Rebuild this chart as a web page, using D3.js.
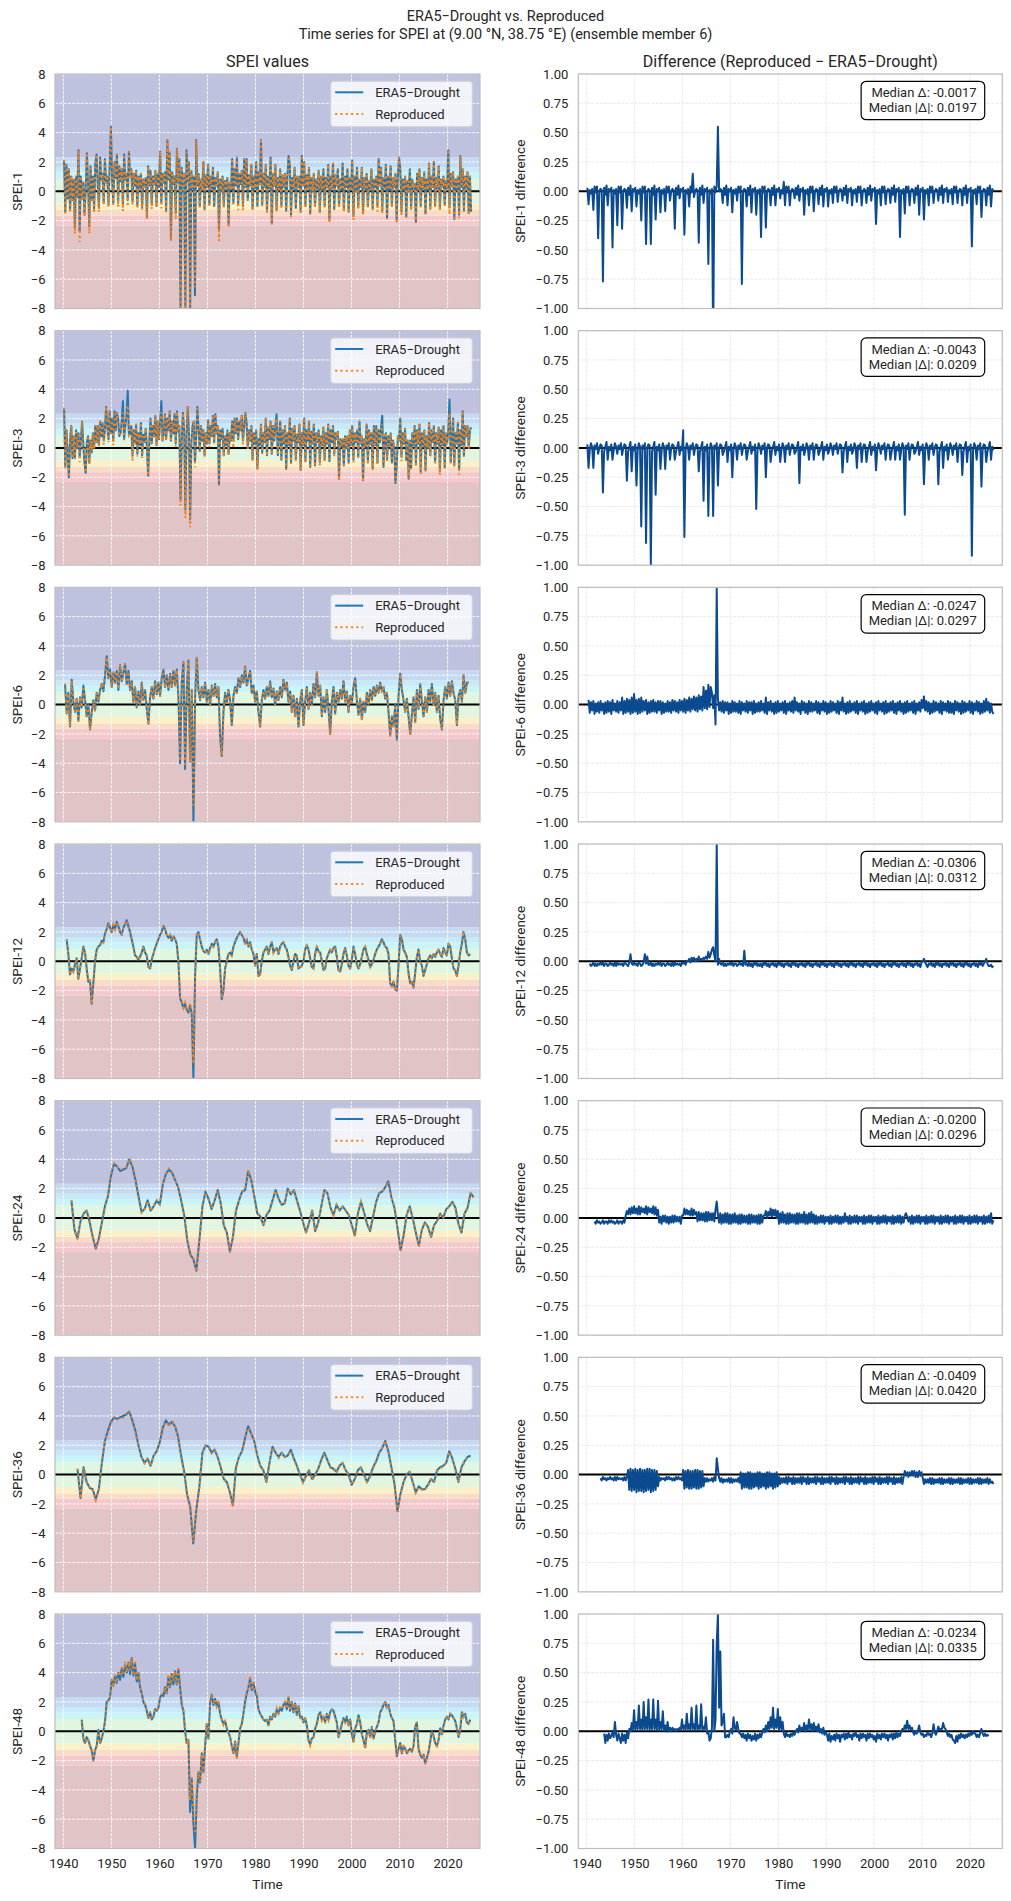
<!DOCTYPE html>
<html><head><meta charset="utf-8">
<script src="https://cdn.jsdelivr.net/npm/d3@7"></script>
<style>
body{margin:0;background:#fff;}
svg text{font-family:Roboto,"Open Sans",sans-serif;fill:#262626;}
</style></head><body>
<svg id="chart" width="1011" height="1901"></svg>
<script>
// ---------------- DATA ----------------
const scaleNames = ["SPEI-1","SPEI-3","SPEI-6","SPEI-12","SPEI-24","SPEI-36","SPEI-48"];
const medianDelta = ["-0.0017","-0.0043","-0.0247","-0.0306","-0.0200","-0.0409","-0.0234"];
const medianAbsDelta = ["0.0197","0.0209","0.0297","0.0312","0.0296","0.0420","0.0335"];
const xTicks = [1940,1950,1960,1970,1980,1990,2000,2010,2020];
const leftTicks = [-8,-6,-4,-2,0,2,4,6,8];
const rightTicks = [-1,-0.75,-0.5,-0.25,0,0.25,0.5,0.75,1];
const bandEdges = [-8,-2.33,-1.65,-1.28,-0.84,0.84,1.28,1.65,2.33,8];
const bandColors = ["#e1c4c6","#f3c9cc","#f9dcc8","#fbf0c8","#e0f6e1","#caf5f8","#c7e9f8","#c5d9f1","#bfc2de"];

// series time grids (decimal years)
const era5Start = [1940.15,1940.15,1940.35,1940.69,1941.68,1942.94,1943.82];
const era5Step  = [0.25,0.25,0.3472,0.3472,0.6345,0.6345,0.3472];
const diffStart = [1940.15,1940.15,1940.4,1940.65,1941.65,1942.9,1943.65];
const diffStep = 0.25;

// ERA5-Drought values
const era5_1 = [
2.1,-1.4,1.8,-0.5, 1.5,-1.3,1.0,-0.6, 0.8,-2.5,1.0,-0.4, 2.8,-2.7,1.0,-0.5, 0.6,-1.6,0.2,2.6,
0.5,-2.4,1.7,-0.6, 1.0,-1.2,1.8,2.5, 0.5,-1.1,2.3,0.8, 1.2,-0.8,2.2,0.6, 1.0,-0.9,1.8,4.4,
0.8,-0.8,2.0,0.9, 2.5,-0.8,1.7,0.7, 1.5,-0.9,2.5,0.8, 1.2,-0.6,2.7,1.0, 1.5,-0.7,1.2,0.4,
1.4,-1.0,1.0,0.2, 1.2,-1.1,0.8,0.3, 0.9,-1.8,1.7,0.4, 1.4,-0.9,1.0,0.5, 1.4,-1.0,1.2,0.3,
2.7,-0.8,1.2,0.6, 1.3,-1.3,3.5,0.8, 2.6,-3.3,1.3,0.5, 1.0,-1.5,2.9,0.6, 2.2,-8.0,1.6,0.3,
1.2,-8.0,2.8,0.7, 2.0,-8.0,1.4,0.2, 1.0,-7.1,3.5,0.4, 1.2,-1.0,0.8,0.1, 2.0,-1.2,1.1,0.3,
1.8,-0.9,1.0,0.2, 1.6,-1.0,0.9,0.4, 1.3,-2.6,0.8,0.0, 1.0,-1.0,0.7,0.2, 0.9,-2.3,0.6,0.1,
2.2,-0.8,1.5,0.4, 2.3,-0.9,1.2,0.5, 1.4,-1.0,2.2,0.3, 2.2,-0.6,1.1,0.4, 1.8,-1.2,1.0,0.2,
2.0,-1.0,1.3,0.5, 3.5,-0.9,1.2,0.3, 1.8,-1.4,1.0,0.2, 2.3,-2.2,1.2,0.4, 1.8,-1.3,0.9,0.1,
1.5,-1.0,1.1,0.3, 1.2,-1.3,1.0,2.4, 1.8,-1.6,0.9,0.2, 1.6,-1.1,1.0,0.3, 1.0,-1.4,2.4,0.4,
2.0,-1.0,1.1,0.2, 1.6,-1.5,0.9,0.0, 1.2,-1.0,0.8,0.2, 1.4,-1.4,1.0,0.1, 1.5,-1.0,0.9,0.3,
1.8,-2.0,1.0,0.2, 1.9,-1.2,1.1,0.4, 1.5,-1.0,0.8,0.1, 1.9,-1.3,1.0,0.3, 1.5,-1.4,0.9,0.2,
2.1,-1.7,1.0,0.0, 1.6,-1.1,0.8,0.3, 1.6,-1.5,0.9,0.1, 1.2,-1.0,0.7,0.2, 1.5,-1.2,0.8,0.3,
1.0,-1.0,2.2,0.4, 1.6,-1.3,0.9,0.2, 1.8,-1.8,1.0,0.1, 1.7,-1.0,0.9,0.3, 1.2,-2.0,1.0,2.3,
1.5,-1.4,0.8,0.1, 1.0,-1.7,0.7,0.0, 1.5,-1.2,0.8,0.2, 0.5,-2.1,1.2,0.1, 1.5,-1.0,0.9,0.2,
1.3,-1.5,0.8,0.1, 1.9,-1.2,1.0,0.3, 2.0,-1.0,0.9,0.2, 1.7,-1.2,0.8,0.3, 1.0,-0.9,0.7,0.2,
2.8,-1.1,1.2,0.4, 1.3,-1.9,0.8,0.1, 1.0,-1.6,2.4,0.3, 1.5,-1.3,1.0,0.2, 1.3,-1.5,1.0,-1.4];

const era5_3 = [
2.7,-1.3,1.2,-0.5, -2.0,0.5,1.5,-0.7, 0.8,-0.7,1.2,0.0, 1.0,-0.6,0.5,1.8, 0.3,-1.0,-1.7,0.4,
0.8,-1.0,0.5,-0.3, 1.0,0.0,1.5,0.4, 1.5,0.2,1.8,0.8, 1.7,0.5,1.2,2.8, 1.5,0.6,2.5,1.0,
2.0,0.5,2.5,1.2, 2.4,2.0,0.8,1.0, 1.8,3.2,0.6,1.5, 2.2,3.9,0.9,1.0, 1.5,-0.5,1.2,0.3,
1.6,-0.4,1.0,0.2, 1.7,-0.5,0.9,0.4, 1.3,0.0,-1.9,0.5, 2.0,0.3,1.5,0.8, 2.2,0.2,1.8,0.6,
1.8,3.2,0.5,1.0, 2.3,0.6,2.0,1.2, 2.5,0.5,1.8,1.0, 2.3,0.3,2.5,1.1, 1.5,-3.5,0.5,2.4,
1.2,-4.2,0.8,2.8, 1.0,-4.85,0.4,1.5, 1.8,-1.0,0.8,2.8, 1.3,-0.2,1.5,0.5, 1.2,-0.5,1.0,0.3,
1.9,0.3,1.5,0.8, 2.2,0.4,2.3,1.0, 1.5,-2.5,1.2,0.6, 1.3,-0.5,0.8,0.2, 1.2,-0.4,1.0,0.5,
1.8,0.5,2.0,1.0, 2.0,0.6,1.8,1.2, 2.2,0.5,1.5,2.4, 1.7,0.0,1.2,0.5, 1.5,-0.8,1.0,0.3,
1.2,-1.4,0.6,0.2, 1.6,-0.3,1.0,0.4, 2.0,-0.5,1.4,0.6, 1.8,-0.4,1.5,0.5, 1.5,2.3,-0.5,0.8,
1.8,-0.8,1.2,0.3, 1.5,-1.4,1.0,0.2, 2.0,-1.0,1.3,0.5, 1.5,-0.8,0.9,0.4, 1.6,-1.5,1.0,0.2,
2.0,-0.9,1.2,0.5, 1.8,-1.3,1.1,0.3, 1.6,-1.2,1.0,0.4, 1.2,-1.0,0.8,0.2, 1.4,-0.8,1.0,0.3,
1.6,-0.9,1.2,0.4, 1.5,-0.4,1.0,0.6, 1.1,-2.1,0.6,0.1, 0.6,-1.2,0.8,0.0, 0.8,-1.0,1.2,0.2,
1.5,-0.8,1.0,0.4, 1.2,-0.6,1.8,0.3, 0.8,-2.2,0.6,0.1, 1.6,-1.0,1.2,0.3, 1.0,-1.4,1.5,0.2,
1.5,-1.0,1.2,0.4, 1.4,2.2,-1.3,0.6, 1.0,-0.8,0.8,0.2, 1.0,-1.0,0.5,0.0, -2.4,-1.2,0.8,0.5,
2.0,-0.6,1.0,0.3, 1.3,-0.8,0.5,-2.1, 0.5,-1.4,1.0,0.2, 1.5,-1.0,1.2,0.3, 1.6,-1.6,1.0,0.1,
1.2,-1.5,0.8,0.0, 1.7,-0.5,1.2,0.4, 1.5,-1.0,1.0,0.3, 1.4,-1.6,1.2,0.2, 1.5,-1.3,1.0,0.3,
1.2,3.3,-1.0,0.6, 2.0,-1.2,1.0,0.3, 1.7,-1.5,1.2,0.2, 2.5,-0.5,1.5,0.8, 1.5,0.0,1.2,1.4];

const era5_6 = [
1.4,-0.6,0.8,-1.5,1.7,0.2,-0.5,0.4,-1.1,0.5,-0.2,1.3,0.3,-0.8,0.0,-1.7,-0.5,0.3,-0.4,0.8,
0.2,1.0,1.4,0.9,2.0,3.3,1.8,2.4,1.2,2.2,1.5,2.3,1.0,2.7,1.6,2.2,2.75,1.4,2.3,1.0,
1.6,0.2,1.2,-0.2,0.9,0.0,1.5,0.3,1.0,-0.3,-1.3,0.5,1.2,0.4,1.6,0.7,1.5,0.6,1.8,2.4,
1.2,2.0,1.0,2.1,1.2,2.3,1.3,2.4,0.5,-4.0,1.5,2.9,-4.4,1.0,3.0,-3.9,1.0,-8.0,0.5,3.2,
1.0,0.3,1.2,0.5,1.5,0.2,1.0,0.0,1.3,0.6,1.4,0.5,1.2,-2.2,-3.5,-0.5,0.8,0.1,1.0,0.3,
-1.4,0.6,1.2,0.8,1.8,1.2,2.0,1.5,2.6,1.3,1.8,2.3,0.8,1.3,0.2,0.9,-0.5,-1.5,0.3,1.0,
0.4,1.2,0.6,1.6,0.5,1.1,0.0,0.9,0.3,1.2,0.5,1.7,1.0,1.5,0.2,0.9,-0.5,0.6,-0.8,0.4,
-1.5,0.3,1.0,-1.4,0.2,1.2,-0.3,0.8,0.0,1.4,0.5,2.2,0.6,1.3,-0.8,0.5,-0.5,1.0,-0.3,-2.0,
0.2,1.2,-0.6,0.8,0.2,1.0,0.4,1.6,0.2,0.9,-0.5,0.6,0.1,1.2,1.8,0.3,-0.7,0.4,-1.0,0.2,
-0.5,0.8,0.0,1.0,0.3,1.2,0.6,1.3,0.8,1.5,0.9,1.2,0.4,0.8,-0.5,-2.1,-0.8,-1.5,0.0,-2.4,
0.6,2.1,1.0,0.3,-0.5,0.4,-0.8,-2.0,-0.7,0.5,-1.2,1.0,-0.3,1.4,0.2,-0.8,0.5,-0.5,1.0,0.2,
1.4,0.0,0.8,-0.5,0.6,-1.0,-1.7,0.3,1.2,0.4,1.5,0.6,1.6,0.8,0.3,-1.4,0.6,1.0,0.2,2.0,
0.8,1.5,1.5];

const era5_12 = [
1.5,0.5,-0.9,-0.5,-0.7,-0.2,0.2,-1.2,-0.5,0.2,1.0,0.6,-0.5,-1.4,-1.3,-2.9,-1.5,0.0,0.8,1.0,
1.1,1.4,1.3,1.9,2.2,2.6,2.3,2.0,2.5,2.2,2.7,2.4,2.0,1.8,2.3,2.5,2.8,2.4,2.0,1.5,
1.0,0.4,0.3,0.1,0.3,0.6,1.0,0.6,0.4,-0.4,-0.5,0.1,0.5,0.9,1.2,1.5,1.8,2.0,2.4,2.2,
1.8,1.6,1.8,1.4,1.7,1.5,1.2,0.0,-2.5,-2.8,-3.2,-2.9,-3.3,-3.5,-3.0,-3.6,-8.0,-1.0,1.8,2.0,
1.5,1.0,0.7,0.6,0.8,0.5,0.9,1.2,1.0,1.3,1.5,1.0,-0.5,-2.6,-2.0,-0.5,0.0,0.5,0.6,0.4,
1.0,1.3,1.6,1.8,2.0,1.8,1.6,1.2,1.5,1.0,1.3,0.8,0.5,-0.3,0.5,-1.0,-0.9,0.0,0.6,0.8,
1.0,0.5,1.0,1.3,0.6,0.8,0.9,0.5,1.0,1.2,1.3,1.0,0.8,0.3,-0.3,-0.6,0.0,0.5,0.4,-0.5,
-0.4,-0.3,0.0,0.8,1.1,0.8,0.2,-0.4,-0.5,0.5,1.0,0.7,0.6,0.0,-0.6,-0.5,0.2,0.5,0.8,0.6,
0.9,1.0,0.3,-0.6,-0.7,-0.2,0.5,0.9,0.4,-0.3,-0.5,0.1,1.0,0.5,-0.2,-0.5,-0.2,0.3,0.8,1.0,
0.5,0.1,-0.4,-0.2,0.1,0.5,0.8,1.0,1.2,1.5,1.3,1.0,0.9,0.5,-1.5,-1.7,-1.4,-1.9,-2.0,-0.3,
1.8,1.5,0.8,0.6,0.3,-0.8,-1.5,-1.4,-1.8,-0.8,0.3,0.8,0.0,-0.3,-1.0,-0.6,-0.2,0.2,0.4,0.2,
0.5,0.3,0.6,0.8,0.5,0.3,0.9,0.6,0.4,1.2,1.0,0.2,-0.5,-0.6,-1.0,-0.3,0.6,1.2,2.0,1.5,
0.6,0.4,0.5];

const era5_24 = [
1.2,-0.8,-1.4,-0.2,0.3,0.5,-0.3,-1.3,-2.1,-1.4,-0.3,0.8,1.5,2.9,3.7,3.5,3.2,3.3,3.4,4.0,
3.5,2.6,1.5,0.4,0.6,1.2,0.5,0.8,1.2,0.9,2.3,3.0,3.3,3.1,2.6,2.1,1.2,0.2,-1.5,-2.5,
-2.8,-3.6,-1.5,0.8,1.8,1.3,0.6,1.2,1.9,1.0,-0.5,-1.0,-2.3,-1.3,0.5,1.2,1.8,1.9,3.2,2.6,
1.5,0.3,0.1,-0.5,0.2,0.5,1.2,1.9,1.3,0.9,1.0,2.0,1.6,1.9,1.2,0.5,-0.3,-1.0,-0.3,0.5,
-0.9,-0.3,0.8,1.9,1.7,0.7,0.2,0.9,0.5,0.8,0.5,0.2,-0.5,-1.2,0.3,1.1,0.4,-0.4,-0.9,0.1,
1.1,1.7,1.8,2.1,2.5,1.4,0.7,-0.7,-2.2,-1.2,0.2,0.8,0.0,-1.0,-1.9,-0.8,-0.3,-0.6,-1.3,-0.5,
-0.2,0.3,0.0,0.6,0.8,1.1,0.7,-0.4,-1.0,0.3,0.7,1.7,1.4];

const era5_36 = [
0.4,-1.6,0.5,-0.5,-0.9,-1.0,-1.7,-1.0,0.8,2.3,3.0,3.6,3.9,3.8,3.9,4.0,4.1,4.3,3.7,3.0,
2.0,1.2,0.8,1.1,0.6,1.3,1.6,2.2,3.2,3.7,3.4,3.6,3.3,2.6,1.3,0.2,-1.4,-2.2,-4.7,-2.4,
-0.8,1.5,2.0,1.9,1.5,1.7,1.2,0.5,-0.3,-0.5,-1.2,-2.1,0.5,1.2,1.6,2.5,3.3,2.8,2.3,1.3,
0.6,0.3,-0.5,0.8,1.9,1.5,1.2,1.5,1.2,1.3,1.7,1.1,0.6,0.0,-0.5,-0.1,0.3,-0.3,0.0,0.4,
1.0,1.5,1.0,0.5,0.4,0.2,0.6,0.8,0.3,0.0,-0.7,-0.3,0.3,0.5,0.0,-0.5,-0.1,0.5,0.9,1.5,
1.8,2.3,1.6,0.5,-0.6,-2.5,-1.3,-0.5,0.0,0.2,-0.5,-1.2,-0.8,-1.0,-1.0,-0.7,-0.3,-0.5,0.3,0.5,
0.6,0.8,1.6,1.1,0.4,-0.5,0.5,0.9,1.2,1.3];

const era5_48 = [
0.8,-0.5,-0.8,-0.4,-0.6,-1.0,-1.3,-2.0,-1.3,-1.0,0.1,-0.8,-0.5,0.0,0.7,2.0,2.1,2.3,3.5,3.1,
3.8,3.3,4.0,3.5,4.3,3.7,4.5,4.0,4.7,3.9,5.0,3.8,4.6,3.4,4.0,3.0,2.6,2.0,1.8,1.4,
0.9,1.3,0.8,1.0,1.5,1.4,1.6,2.3,2.5,2.4,3.0,2.6,3.7,3.0,3.9,3.2,4.1,3.2,4.2,3.0,
1.8,1.4,0.0,-0.8,-0.6,-5.5,-3.2,-6.3,-8.0,-4.5,-2.8,-3.5,-1.5,-2.8,-1.0,0.5,-0.5,1.9,2.5,1.8,
2.2,1.7,2.0,1.2,0.8,0.5,0.7,0.2,-0.1,-0.4,-1.0,-1.5,-0.7,-1.8,-0.8,0.2,0.5,1.2,2.0,2.6,
3.0,3.6,2.8,3.3,2.7,2.4,1.5,1.2,1.0,0.8,0.7,0.8,0.4,1.0,0.8,1.2,1.0,1.5,1.2,1.6,
1.4,1.8,2.0,1.5,2.3,1.4,2.0,1.3,1.9,1.1,1.7,0.9,1.0,0.6,0.9,0.4,-0.6,-0.9,-0.5,-0.4,
0.2,0.5,1.1,1.3,0.8,1.0,0.6,1.2,0.8,1.3,1.5,1.4,1.0,0.6,-0.4,0.0,0.5,0.9,0.6,1.0,
0.4,0.8,-0.2,-0.7,0.2,0.5,1.1,0.6,-0.2,-0.6,-1.1,-0.1,0.1,-0.4,0.3,-0.5,0.0,0.3,0.6,1.3,
1.5,1.8,2.0,1.6,1.8,1.2,0.9,0.7,-0.6,-1.7,-1.2,-0.8,-1.5,-1.0,-1.2,-1.5,-1.3,-1.2,-1.4,-1.0,
0.3,0.6,-1.2,-1.6,-1.8,-1.6,-2.2,-1.8,-1.4,-0.7,0.0,-0.3,-0.8,-1.0,-0.6,0.2,-0.2,0.4,0.8,1.0,
0.8,1.2,1.1,0.9,0.7,0.2,-0.4,0.1,1.3,1.0,1.2,0.6,0.5,0.8];

// Differences (Reproduced − ERA5-Drought), in hundredths, quarterly
const diff_1 = [
3,-11,1,-2, 2,-16,4,-1, 4,-40,0,2, 1,-77,3,-3, 5,-12,2,0, 3,-48,1,-2, 2,-29,4,-1, 4,-32,0,2, 1,-14,3,-3, 5,-17,2,0,
3,-13,1,-2, 2,-25,4,-1, 4,-45,0,2, 1,-45,3,-3, 5,-24,2,0, 3,-18,1,-2, 2,-17,4,-1, 4,-8,0,2, 1,-32,3,-3, 5,-6,2,0,
3,-37,1,-2, 2,-13,4,-1, 15,-5,0,2, 1,-44,3,-3, 5,-10,2,0, 3,-62,1,-2, 2,-130,4,-1, 4,55,0,2, 1,-10,3,-3, 5,-12,2,0,
3,-18,1,-2, 2,-8,4,-1, 4,-79,0,2, 1,-13,3,-3, 5,-18,2,0, 3,-20,1,-2, 2,-39,4,-1, 4,-31,0,2, 1,-12,3,-3, 5,-12,2,0,
3,-6,1,-2, 8,-12,4,-1, 4,-12,0,2, 1,-6,3,-3, 5,-8,2,0, 3,-20,1,-2, 2,-12,4,-1, 4,-17,0,2, 1,-11,3,-3, 5,-13,2,0,
3,-13,1,-2, 2,-10,4,-1, 4,-9,0,2, 1,-8,3,-3, 5,-10,2,0, 3,-12,1,-2, 2,-9,4,-1, 4,-12,0,2, 1,-10,3,-3, 5,-8,2,0,
3,-28,1,-2, 2,-12,4,-1, 4,-11,0,2, 1,-10,3,-3, 5,-9,2,0, 3,-39,1,-2, 2,-19,4,-1, 4,-12,0,2, 1,-10,3,-3, 5,-20,2,0,
3,-24,1,-2, 2,-12,4,-1, 4,-10,0,2, 1,-8,3,-3, 5,-10,2,0, 3,-9,1,-2, 2,-11,4,-1, 4,-10,0,2, 1,-12,3,-3, 5,-10,2,0,
3,-47,1,-2, 2,-11,4,-1, 4,-22,0,2, 1,-12,3,-3, 5,-13,2,0];

const diff_3 = [
3,-17,-2,4, 1,-17,2,-1, 4,-5,0,3, 2,-38,-3,1, 5,-10,1,-2, 3,-10,-2,4, 1,-5,2,-1, 4,-6,0,3, 2,-28,-3,1, 5,-20,1,-2,
3,-32,-2,4, 1,-67,2,-1, 4,-81,0,3, 2,-100,-3,1, 5,-40,1,-2, 3,-18,-2,4, 1,-18,2,-1, 4,-10,0,3, 2,-10,-3,1, 5,-6,1,-2,
15,-76,-2,4, 1,-10,2,-1, 4,-6,0,3, 2,-20,-3,1, 5,-45,1,-2, 3,-58,-2,4, 1,-58,2,-1, 4,-32,0,3, 2,-6,-3,1, 5,-12,1,-2,
3,-25,-2,4, 1,-10,2,-1, 4,-6,0,3, 2,-10,-3,1, 5,-5,1,-2, 3,-52,-2,4, 1,-5,2,-1, 4,-25,0,3, 2,-12,-3,1, 5,-6,1,-2,
3,-12,-2,4, 1,-12,2,-1, 4,-6,0,3, 2,-5,-3,1, 5,-30,1,-2, 3,-6,-2,4, 1,-10,2,-1, 4,-10,0,3, 2,-6,-3,1, 5,-10,1,-2,
3,-5,-2,4, 1,-6,2,-1, 4,-5,0,3, 2,-21,-3,1, 5,-12,1,-2, 3,-5,-2,4, 1,-17,2,-1, 4,-12,0,3, 2,-12,-3,1, 5,-6,1,-2,
3,-19,-2,4, 1,-5,2,-1, 4,-10,0,3, 2,-10,-3,1, 5,-10,1,-2, 3,-10,-2,4, 1,-57,2,-1, 4,-10,0,3, 2,-5,-3,1, 5,-6,1,-2,
3,-31,-2,4, 1,-10,2,-1, 4,-6,0,3, 2,-31,-3,1, 5,-17,1,-2, 3,-10,-2,4, 1,-6,2,-1, 4,-12,0,3, 2,-23,-3,1, 5,-12,1,-2,
3,-92,-2,4, 1,-10,2,-1, 4,-33,0,3, 2,-12,-3,1, 5,-10,1,-2];

const diff_6 = [
4,-7,2, -5,3,-8,1, -6,2,-7,3, -5,1,-8,2, -7,3,-6,2, -8,4,-5,1, -6,3,-7,2, -5,6,-8,3, -7,5,-6,4, -8,6,-7,9,
-6,4,-8,5, -7,6,-6,3, -5,4,-8,2, -7,3,-6,4, -6,2,-7,3, -5,3,-8,2, -7,1,-6,3, -6,2,-7,4, -5,3,-6,2, -7,4,-5,3,
-6,5,-7,4, -5,6,-6,5, -4,7,-5,6, -6,8,-4,7, -5,15,-3,12, -4,17,-2,15, 10,-3,8,-17, 99,5,-5,2, -6,3,-7,2, -5,2,-8,1,
-7,3,-6,2, -6,1,-7,3, -8,2,-5,1, -6,3,-7,2, -5,2,-8,3, -7,1,-6,2, -6,3,-5,1, -7,6,-8,2, -5,3,-6,1, -8,2,-7,3,
-6,1,-5,2, -7,3,-8,1, -5,2,-6,3, -7,6,-5,2, -6,1,-8,3, -5,2,-7,1, -8,3,-6,2, -6,1,-5,3, -7,2,-8,1, -5,3,-6,2,
-8,1,-7,3, -6,2,-5,1, -7,3,-8,2, -5,6,-6,1, -8,2,-7,3, -6,1,-5,2, -7,3,-8,1, -5,2,-6,3, -8,1,-7,2, -6,3,-5,1,
-7,2,-8,3, -5,1,-6,2, -8,3,-7,1, -6,2,-5,3, -7,1,-8,2, -5,3,-6,1, -8,2,-7,3, -6,1,-5,2, -7,3,-8,1, -5,2,-6,4,
-3,7,-5,3, -6,2,-8,1, -7,3,-6,2, -5,1,-7,3, -8,2,-5,1, -6,3,-7,2, -7,1,-8,3, -5,2,-6,1, -8,3,-7,2, -6,1,-5,3,
-7,2,-8,1, -5,3,-6,2, -8,1,-7,3, -6,5,-5,2, -7,1,-6,-8];

const diff_12 = [
-2,-4, -3,-1,-4,-2, -4,-2,-3,-1, -3,-1,-4,-2, -2,-4,-3,-1, -3,-2,-4,-1, -4,-1,-3,-2, -3,-2,-4,-1, -2,-3,-4,-1,
6,-2,-3,-1, -3,-2,-4,-1, -2,-4,-3,-1, 6,-2,4,-3, -3,-1,-4,-2, -4,-2,-3,-1, -3,-1,-4,-2, -2,-4,-3,-1, -3,-2,-4,-1,
-4,-1,-3,-2, -3,-2,-4,-1, -2,-1,-3,0, 0,2,-1,3, 1,3,0,2, 0,4,1,2, 1,3,2,4, 2,8,3,6, 10,12,5,0, 100,-3,2,-2,
-3,-1,-4,-2, -4,-2,-3,-1, -3,-1,-4,-2, -2,-4,-3,-1, -3,-2,-4,9, -3,-2,-4,-1, -4,-2,-5,-1, -3,-1,-4,-2,
-4,-2,-5,-1, -3,-1,-4,-2, -5,-2,-3,-1, -4,-2,-5,-1, -3,-1,-4,-2, -5,-2,-3,-1, -4,-2,-5,-1, -3,-1,-4,-2,
-5,-2,-3,-1, -4,-2,-5,-1, -3,-1,-4,-2, -5,-2,-3,-1, -4,-2,-5,-1, -3,-1,-4,-2, -5,-2,-3,-1, -4,-2,-5,-1,
-3,-1,-4,-2, -5,-2,-3,-1, -4,-2,-5,-1, -3,-1,-4,-2, -5,-2,-3,-1, -4,-2,-5,-1, -3,-1,-4,-2, -5,-2,-3,-1,
-4,-2,-5,-1, -3,-1,-4,-2, -5,-2,-3,-1, -4,-2,-5,-1, -3,-1,-4,-2, -5,-2,-3,-1, -4,-2,-5,-1, -3,-1,-4,-2,
-5,-2,-3,-1, -4,-2,-5,-1, 0,2,-1,-3,
-5,-2,-3,-1, -4,-2,-5,-1, -3,-1,-4,-2, -5,-2,-3,-1, -4,-2,-5,-1, -3,-1,-4,-2,
-5,-2,-3,-1, -4,-2,-5,-1, -3,-1,-4,-2, -5,-2,-3,-1, -4,-2,-5,-1, -3,-1,-4,-2,
0,2,-2,-4, -4,-3,-5,-4];

const diff_24 = [
-3,-5, -2,-4,-3,-5, -4,-2,-5,-3, -3,-5,-2,-4, -2,-4,-3,-5, -4,-2,-5,-3, -3,-5,-2,-4, 2,6,3,8,
3,9,4,10, 4,8,3,10, 3,9,5,8, 4,10,3,9, 5,8,4,10, 3,9,2,7, -4,1,-5,2, -3,2,-4,1, -5,1,-4,2, -4,2,-3,1, -3,1,-5,2,
2,8,3,7, 3,6,2,8, 2,7,3,5, -3,5,-2,4, -2,4,-3,5, -3,5,-2,4, -2,4,-3,7, 14,3,-4,4, -5,3,-4,4, -4,4,-5,3,
-5,3,-4,4, -4,2,-5,3, -5,3,-4,2, -4,2,-5,3, -5,3,-4,2, -4,2,-5,3, -5,3,-4,2, 2,6,0,5, 2,8,1,7, 2,7,0,6,
-5,4,-4,5, -4,3,-5,4, -5,4,-4,3, -4,3,-5,4, -5,4,-4,3, -4,5,-5,3, -5,4,-4,5, -4,3,-5,2,
-5,1,-4,2, -4,2,-5,1, -3,1,-5,2, -5,1,-4,2, -4,2,-5,1, -5,1,-4,4, -3,1,-5,2, -5,1,-4,2, -4,2,-5,1, -3,1,-5,2,
-5,1,-4,2, -4,2,-5,1, -3,1,-5,2, -5,1,-4,2, -4,2,-5,1, -3,1,-5,2, -5,1,-4,2, -4,2,-5,1, -4,2,4,1, -3,1,-5,2,
-5,1,-4,2, -4,2,-5,1, -3,1,-5,2, -5,1,-4,2, -4,2,-5,1, -3,1,-5,2, -5,1,-4,2, -4,2,-5,1, -3,1,-5,2, -5,1,-4,2,
-4,2,-5,1, -3,1,-5,2, -5,1,-4,2, -4,2,-5,1, -3,1,-5,2, -5,1,-4,2, -4,4,-5,-2];

const diff_36 = [
-3, -5,-2,-4,-3, -5,-3,-4,-2, -4,-3,-5,-2, -5,-2,-4,-3, -4,-3,-5,-2, -5,-2,4,-13,
5,-14,4,-13, 5,-15,4,-14, 5,-14,4,-15, 4,-14,5,-13, 5,-15,4,-14, 4,-13,3,-10, -2,-5,-3,-4, -3,-5,-2,-4, -2,-4,-3,-5, -3,-5,-2,-4, -2,-4,-3,-5,
4,-12,3,-11, 4,-12,3,-12, 3,-11,4,-12, 4,-12,3,-11, 3,-10,-3,-6, -3,-6,-4,-5, -3,-6,-2,-5, 14,5,-3,-6, -3,-7,-4,-6, -4,-6,-3,-7,
-3,-7,-4,-6, -4,-6,-3,-7, 2,-12,1,-11, 1,-11,2,-12, 2,-12,1,-11, 1,-10,2,-12, 2,-11,1,-10, 1,-12,2,-11, 2,-10,1,-12, 1,-11,2,-10,
-2,-8,-3,-7, -3,-7,-2,-8, -2,-6,-3,-8, -2,-8,-3,-7, -3,-7,-2,-8, -2,-6,-3,-8, -2,-8,-3,-7, -3,-7,-2,-8, -2,-6,-3,-8, -2,-8,-3,-7,
-3,-7,-2,-8, -2,-6,-3,-8, -2,-8,-3,-7, -3,-7,-2,-8, -2,-6,-3,-8, -2,-8,-3,-7, -3,-7,-2,-8, -2,-6,-3,-8, -2,-8,-3,-7, -3,-7,-2,-8,
-2,-6,-3,-8, -2,-8,-3,-7, -3,-7,-2,-8, -2,-6,-3,-8, -2,-8,-3,-7, -3,-7,-2,-8,
-2,3,-1,2, -2,2,-1,3, -1,3,-2,2, -2,3,-1,2,
-3,-8,-4,-7, -4,-7,-3,-8, -3,-8,-4,-7, -4,-7,-3,-8, -3,-8,-4,-7, -4,-7,-3,-8, -3,-8,-4,-7, -4,-7,-3,-8, -3,-8,-4,-7, -4,-7,-3,-8,
-3,-8,-4,-7, -4,-7,-3,-8, -3,-8,-4,-7, -4,-7,-3,-8, -4,-7,-6,-8];

const diff_48 = [
-2,-10, -3,-8,-2,-6, -4,-1,-5,8, -3,-8,-2,-6, -10,-2,-8,-3, -10,-1,-6,2, 0,7,1,18,
1,8,2,22, 2,10,1,25, 2,12,2,27, 1,10,2,27, 2,10,1,26, 1,8,2,17, 0,5,1,8, 0,3,0,3, 1,2,0,2, 1,3,1,10,
2,5,1,15, 2,6,1,20, 2,6,1,22, 1,5,2,23, 1,4,2,12, -2,0,-8,-6, 3,78,0,10, 75,100,20,68, 5,8,15,-5, -5,-3,-5,0,
2,-2,12,3, 1,8,2,-2, -2,-5,-2,-6, -3,-8,-2,-6, -3,-8,-4,-7, -2,-8,-3,-6, -2,-5,-1,2, -1,5,0,8, 2,12,3,20, 2,10,3,19,
1,12,2,8, -2,-5,-1,-4, -3,-5,-2,-4, -1,-3,0,2, -1,5,0,3, 1,7,0,5, 1,10,2,6, 0,7,1,4, 0,6,-1,2, -2,3,-3,-1,
-3,-8,-2,-9, -4,-7,-3,-8, -2,-6,-3,-9, -3,-5,-2,-7, -2,-6,-1,-5, -3,-7,-2,-4, -1,-5,-3,-8, -2,-6,-2,-5, -3,-8,-2,-6, -2,-5,-3,-7,
-4,-9,-2,-6, -3,-7,-2,-5, -2,-6,-3,-8, -3,-5,-2,-7, -2,-6,-1,-5, -2,-4,0,2, 1,5,2,9, 2,5,1,3, -1,-3,0,-2, 1,5,-1,-3,
-2,-5,-3,-4, -1,-3,-2,-5, -2,6,-1,-3, 0,4,1,2, 2,7,3,2, -1,-4,-2,-5, -3,-7,-8,-10, -4,-9,-3,-6, -2,-5,-3,-6, -3,-5,-2,-4,
-1,-3,0,-2, -2,-5,-3,-5, -1,2,-2,-4, -2,-4,-3,-4];

const era5Values = [era5_1, era5_3, era5_6, era5_12, era5_24, era5_36, era5_48];
const diffValues = [diff_1, diff_3, diff_6, diff_12, diff_24, diff_36, diff_48];

// ---------------- DRAWING ----------------
const svg = d3.select("#chart");
const leftX0 = 55, leftW = 425, rightX0 = 578.3, rightW = 424;
const rowTop0 = 74, rowStep = 256.67, rowH = 234.5;
const xDomain = [1938.26, 2026.75];
const minus = s => String(s).replace(/-/g, "\u2212");

svg.append("text").attr("x", 505.5).attr("y", 21).attr("text-anchor", "middle")
  .style("font-size", "14.5px").text("ERA5\u2212Drought vs. Reproduced");
svg.append("text").attr("x", 505.5).attr("y", 38.5).attr("text-anchor", "middle")
  .style("font-size", "14.5px").text("Time series for SPEI at (9.00 \u00B0N, 38.75 \u00B0E) (ensemble member 6)");
svg.append("text").attr("x", leftX0 + leftW / 2).attr("y", 66.5).attr("text-anchor", "middle")
  .style("font-size", "16px").text("SPEI values");
svg.append("text").attr("x", rightX0 + rightW / 2).attr("y", 66.5).attr("text-anchor", "middle")
  .style("font-size", "16px").text("Difference (Reproduced \u2212 ERA5\u2212Drought)");

const defs = svg.append("defs");

scaleNames.forEach((name, k) => {
  const top = rowTop0 + k * rowStep;
  const last = k === scaleNames.length - 1;

  const era = era5Values[k].map((v, i) => ({ t: era5Start[k] + i * era5Step[k], v }));
  const diff = diffValues[k].map((v, i) => ({ t: diffStart[k] + i * diffStep, v: v / 100 }));
  const rep = era.map(p => {
    const j = Math.round((p.t - diffStart[k]) / diffStep);
    const d = (j >= 0 && j < diff.length) ? diff[j].v : 0;
    return { t: p.t, v: p.v + d };
  });

  // ---------- left panel ----------
  const xL = d3.scaleLinear().domain(xDomain).range([0, leftW]);
  const yL = d3.scaleLinear().domain([-8, 8]).range([rowH, 0]);
  const gL = svg.append("g").attr("transform", `translate(${leftX0},${top})`);
  const clipL = "clipL" + k;
  defs.append("clipPath").attr("id", clipL).append("rect").attr("width", leftW).attr("height", rowH);

  gL.selectAll("rect.band").data(bandColors).join("rect")
    .attr("x", 0).attr("width", leftW)
    .attr("y", (c, i) => yL(bandEdges[i + 1]))
    .attr("height", (c, i) => yL(bandEdges[i]) - yL(bandEdges[i + 1]))
    .attr("fill", c => c);

  gL.selectAll("line.vg").data(xTicks).join("line")
    .attr("x1", d => xL(d)).attr("x2", d => xL(d)).attr("y1", 0).attr("y2", rowH)
    .attr("stroke", "#fff").attr("stroke-width", 0.9).attr("stroke-dasharray", "3,1.3");
  gL.selectAll("line.hg").data(leftTicks).join("line")
    .attr("y1", d => yL(d)).attr("y2", d => yL(d)).attr("x1", 0).attr("x2", leftW)
    .attr("stroke", "#fff").attr("stroke-width", 0.9).attr("stroke-dasharray", "3,1.3");

  gL.append("line").attr("x1", 0).attr("x2", leftW).attr("y1", yL(0)).attr("y2", yL(0))
    .attr("stroke", "#000").attr("stroke-width", 2);

  const lineL = d3.line().x(d => xL(d.t)).y(d => yL(d.v));
  const dg = gL.append("g").attr("clip-path", `url(#${clipL})`);
  dg.append("path").datum(era).attr("d", lineL).attr("fill", "none")
    .attr("stroke", "#1f77b4").attr("stroke-width", 2).attr("stroke-linejoin", "round");
  dg.append("path").datum(rep).attr("d", lineL).attr("fill", "none")
    .attr("stroke", "#ff7f0e").attr("stroke-width", 2).attr("stroke-dasharray", "2,3.3");

  gL.append("rect").attr("width", leftW).attr("height", rowH).attr("fill", "none")
    .attr("stroke", "#bdbdbd").attr("stroke-width", 1.2);

  const axL = gL.append("g").call(d3.axisLeft(yL).tickValues(leftTicks).tickSize(0).tickPadding(9.5)
    .tickFormat(d => minus(d)));
  axL.select(".domain").remove();
  axL.selectAll("text").style("font-size", "13px").style("font-family", "Roboto").attr("fill", "#262626");

  gL.append("text").attr("transform", `translate(${21.5 - leftX0},${rowH / 2}) rotate(-90)`)
    .attr("text-anchor", "middle").style("font-size", "13.5px").text(name);

  // legend
  const lg = gL.append("g").attr("transform", `translate(${leftW - 7.7 - 141.6},7.3)`);
  lg.append("rect").attr("width", 141.6).attr("height", 45.4).attr("rx", 3)
    .attr("fill", "#fff").attr("fill-opacity", 0.8).attr("stroke", "#d0d0d6").attr("stroke-width", 1);
  lg.append("line").attr("x1", 4.5).attr("x2", 32.5).attr("y1", 11).attr("y2", 11)
    .attr("stroke", "#1f77b4").attr("stroke-width", 2);
  lg.append("line").attr("x1", 4.5).attr("x2", 32.5).attr("y1", 32.7).attr("y2", 32.7)
    .attr("stroke", "#ff7f0e").attr("stroke-width", 2).attr("stroke-dasharray", "2,3.3");
  lg.append("text").attr("x", 44.5).attr("y", 11).attr("dy", "0.35em").style("font-size", "13px").text("ERA5\u2212Drought");
  lg.append("text").attr("x", 44.5).attr("y", 32.7).attr("dy", "0.35em").style("font-size", "13px").text("Reproduced");

  // ---------- right panel ----------
  const xR = d3.scaleLinear().domain(xDomain).range([0, rightW]);
  const yR = d3.scaleLinear().domain([-1, 1]).range([rowH, 0]);
  const gR = svg.append("g").attr("transform", `translate(${rightX0},${top})`);
  const clipR = "clipR" + k;
  defs.append("clipPath").attr("id", clipR).append("rect").attr("width", rightW).attr("height", rowH);

  gR.append("rect").attr("width", rightW).attr("height", rowH).attr("fill", "#fff");
  gR.selectAll("line.vg").data(xTicks).join("line")
    .attr("x1", d => xR(d)).attr("x2", d => xR(d)).attr("y1", 0).attr("y2", rowH)
    .attr("stroke", "#e3e3e3").attr("stroke-width", 0.8).attr("stroke-dasharray", "3,1.3");
  gR.selectAll("line.hg").data(rightTicks).join("line")
    .attr("y1", d => yR(d)).attr("y2", d => yR(d)).attr("x1", 0).attr("x2", rightW)
    .attr("stroke", "#e3e3e3").attr("stroke-width", 0.8).attr("stroke-dasharray", "3,1.3");

  gR.append("line").attr("x1", 0).attr("x2", rightW).attr("y1", yR(0)).attr("y2", yR(0))
    .attr("stroke", "#000").attr("stroke-width", 2);

  const lineR = d3.line().x(d => xR(d.t)).y(d => yR(d.v));
  gR.append("g").attr("clip-path", `url(#${clipR})`)
    .append("path").datum(diff).attr("d", lineR).attr("fill", "none")
    .attr("stroke", "#0b4a8e").attr("stroke-width", 2).attr("stroke-linejoin", "round");

  gR.append("rect").attr("width", rightW).attr("height", rowH).attr("fill", "none")
    .attr("stroke", "#bdbdbd").attr("stroke-width", 1.2);

  const axR = gR.append("g").call(d3.axisLeft(yR).tickValues(rightTicks).tickSize(0).tickPadding(10)
    .tickFormat(d => minus(d3.format(".2f")(d))));
  axR.select(".domain").remove();
  axR.selectAll("text").style("font-size", "13px").style("font-family", "Roboto").attr("fill", "#262626");

  gR.append("text").attr("transform", `translate(${525 - rightX0},${rowH / 2}) rotate(-90)`)
    .attr("text-anchor", "middle").style("font-size", "13.5px").text(name + " difference");

  // annotation box
  const ag = gR.append("g");
  const tx = rightW - 25.6;
  const t1 = ag.append("text").attr("x", tx).attr("y", 23).attr("text-anchor", "end")
    .style("font-size", "13px").text("Median \u0394: " + medianDelta[k]);
  const t2 = ag.append("text").attr("x", tx).attr("y", 38).attr("text-anchor", "end")
    .style("font-size", "13px").text("Median |\u0394|: " + medianAbsDelta[k]);
  const b1 = t1.node().getBBox(), b2 = t2.node().getBBox();
  const bx0 = Math.min(b1.x, b2.x) - 7.5, bx1 = tx + 8;
  ag.insert("rect", "text").attr("x", bx0).attr("y", 7.3).attr("width", bx1 - bx0).attr("height", 38.4)
    .attr("rx", 5).attr("fill", "#fff").attr("stroke", "#000").attr("stroke-width", 1.2);

  if (last) {
    [[gL, xL, leftW], [gR, xR, rightW]].forEach(([g, xs, w]) => {
      const ax = g.append("g").attr("transform", `translate(0,${rowH})`)
        .call(d3.axisBottom(xs).tickValues(xTicks).tickSize(0).tickPadding(10.5).tickFormat(d3.format("d")));
      ax.select(".domain").remove();
      ax.selectAll("text").style("font-size", "13px").style("font-family", "Roboto").attr("fill", "#262626");
      g.append("text").attr("x", w / 2).attr("y", rowH + 40).attr("text-anchor", "middle")
        .style("font-size", "13.5px").text("Time");
    });
  }
});
</script>
</body></html>
